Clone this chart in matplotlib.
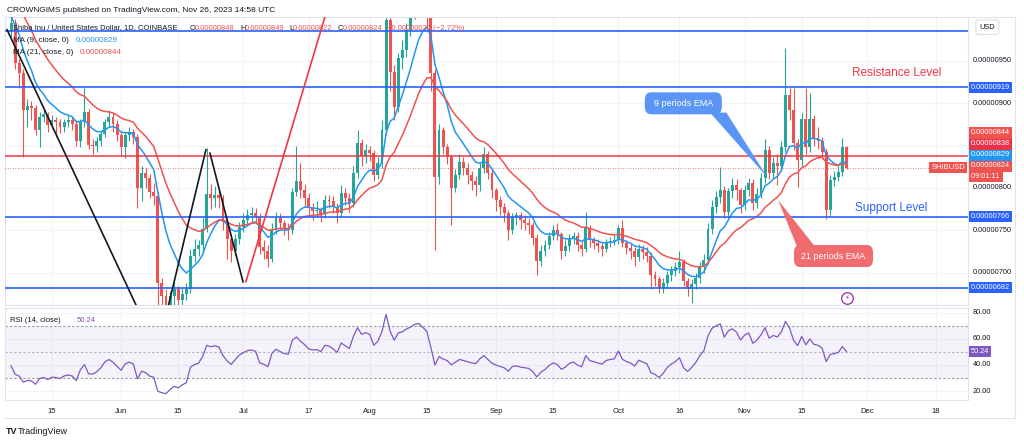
import numpy as np
import pandas as pd
import matplotlib
matplotlib.use('Agg')
import matplotlib.pyplot as plt
import matplotlib.transforms as mtransforms
from matplotlib.patches import FancyBboxPatch, Polygon

plt.rcParams['font.family'] = ['Liberation Sans', 'DejaVu Sans']

# prices in units of 1e-8 USD  (848 -> 0.00000848), daily candles from 2023-05-05
first_open = 985
closes = [995, 948, 936, 892, 897, 894, 868, 884, 887, 874,
          880, 878, 872, 878, 880, 876, 855, 878, 890, 851,
          850, 855, 864, 878, 884, 876, 862, 848, 862, 866,
          860, 800, 818, 812, 795, 790, 688, 672, 662, 672,
          680, 668, 675, 680, 720, 728, 732, 752, 793, 788,
          792, 788, 760, 740, 726, 740, 754, 762, 768, 770,
          766, 730, 725, 716, 752, 765, 758, 752, 750, 795,
          808, 797, 788, 776, 773, 774, 769, 786, 784, 778,
          770, 794, 788, 782, 818, 853, 838, 845, 841, 815,
          829, 868, 998, 937, 896, 953, 963, 987, 1005, 1030,
          1040, 1025, 1010, 936, 813, 868, 848, 836, 800, 815,
          831, 824, 815, 808, 803, 824, 840, 818, 797, 786,
          778, 770, 750, 766, 768, 762, 759, 756, 741, 714,
          726, 733, 743, 750, 745, 726, 731, 740, 743, 733,
          728, 753, 738, 735, 731, 728, 735, 737, 738, 753,
          735, 729, 726, 718, 728, 724, 720, 697, 692, 682,
          688, 697, 702, 706, 712, 690, 680, 686, 694, 706,
          715, 752, 778, 789, 797, 771, 796, 804, 797, 780,
          798, 806, 782, 793, 812, 845, 818, 830, 826, 848,
          910, 892, 853, 833, 882, 848, 882, 859, 855, 843,
          774, 809, 813, 819, 848, 824]
highs = [1002, 1000, 952, 940, 905, 903, 898, 890, 892, 890,
         886, 884, 882, 882, 886, 884, 880, 882, 918, 893,
         858, 860, 868, 882, 892, 888, 880, 866, 866, 872,
         870, 864, 826, 824, 816, 806, 795, 694, 680, 678,
         690, 684, 682, 688, 728, 740, 738, 765, 847, 805,
         802, 798, 792, 766, 746, 746, 760, 770, 775, 778,
         776, 770, 738, 732, 758, 772, 770, 762, 758, 800,
         850, 830, 805, 794, 782, 784, 778, 792, 792, 790,
         782, 804, 800, 794, 826, 868, 858, 852, 850, 845,
         836, 880, 1010, 1005, 945, 960, 975, 995, 1020, 1050,
         1060, 1050, 1030, 1015, 940, 875, 872, 852, 840, 822,
         840, 836, 830, 820, 814, 830, 848, 844, 822, 800,
         790, 782, 774, 770, 772, 772, 768, 764, 760, 745,
         732, 738, 748, 756, 758, 748, 738, 746, 748, 748,
         738, 771, 756, 742, 740, 736, 740, 742, 744, 756,
         762, 738, 734, 730, 734, 732, 730, 724, 702, 696,
         694, 702, 708, 712, 725, 716, 694, 692, 700, 712,
         722, 758, 786, 796, 825, 802, 800, 812, 810, 800,
         804, 812, 810, 800, 818, 858, 850, 836, 840, 855,
         965, 918, 918, 858, 888, 918, 912, 886, 872, 860,
         846, 815, 820, 826, 859, 849]
lows = [978, 940, 918, 836, 872, 880, 862, 848, 878, 866,
        870, 860, 865, 866, 872, 868, 850, 848, 872, 846,
        840, 842, 850, 860, 872, 866, 855, 838, 835, 856,
        852, 776, 785, 800, 788, 780, 650, 655, 640, 650,
        662, 655, 660, 668, 676, 712, 720, 726, 748, 775,
        778, 776, 750, 716, 712, 720, 734, 748, 756, 760,
        758, 722, 716, 706, 712, 745, 750, 744, 738, 745,
        790, 788, 778, 768, 762, 766, 760, 765, 776, 770,
        758, 766, 780, 772, 778, 812, 826, 830, 832, 808,
        810, 824, 862, 915, 880, 890, 940, 955, 980, 1000,
        1025, 1010, 990, 915, 727, 805, 840, 828, 756, 795,
        810, 815, 805, 798, 790, 796, 818, 810, 788, 773,
        768, 760, 738, 745, 756, 752, 750, 746, 732, 697,
        708, 720, 728, 738, 738, 716, 720, 726, 734, 726,
        720, 724, 730, 728, 724, 720, 724, 730, 732, 734,
        730, 722, 716, 708, 714, 716, 712, 680, 684, 676,
        676, 682, 690, 696, 700, 684, 672, 664, 680, 688,
        700, 710, 745, 770, 782, 764, 766, 788, 786, 770,
        774, 790, 774, 776, 788, 806, 810, 812, 804, 820,
        842, 880, 845, 801, 826, 840, 842, 850, 846, 834,
        763, 768, 802, 808, 814, 822]

# indicator state before the first visible candle
ema9_seed = 1005
ema21_seed = 1035
rsi_gain_seed = 7.0
rsi_loss_seed = 12.0

blue_levels = [986, 919, 766, 682]
red_level = 838
last_price = 824
price_ticks = [950, 900, 800, 750, 700]
rsi_ticks = [80, 20, 40, 60]

tick_dates = ['2023-05-15', '2023-06-01', '2023-06-15', '2023-07-01', '2023-07-17',
              '2023-08-01', '2023-08-15', '2023-09-01', '2023-09-15', '2023-10-01',
              '2023-10-16', '2023-11-01', '2023-11-15', '2023-12-01', '2023-12-18']
tick_labels = ['15', 'Jun', '15', 'Jul', '17', 'Aug', '15', 'Sep', '15', 'Oct',
               '16', 'Nov', '15', 'Dec', '18']

# hand-drawn trend lines: (day offset from May 15, price)
black_lines = [[(-11.0, 987), (20.9, 659)],
               [(28.5, 659), (37.8, 845)],
               [(38.8, 841), (46.9, 689)]]
red_trend = [(47.6, 689), (67.0, 1002)]

GREEN = '#26a69a'
RED = '#ef5350'
BLUE = '#2962ff'
EMA9_C = '#2196f3'
EMA21_C = '#f0524f'
TXT = '#131722'
GRID = '#f0f3fa'
PURPLE = '#7e57c2'


def ema(vals, seed, n):
    a = 2.0 / (n + 1)
    out = []
    prev = seed
    for v in vals:
        prev = prev + a * (v - prev)
        out.append(prev)
    return np.array(out)


def rsi(vals, prev_close, g0, l0, n=14):
    out = []
    g, l = g0, l0
    p = prev_close
    for v in vals:
        ch = v - p
        g = (g * (n - 1) + max(ch, 0)) / n
        l = (l * (n - 1) + max(-ch, 0)) / n
        out.append(100 - 100 / (1 + g / l))
        p = v
    return np.array(out)


def fmt(v):
    return '0.00000%03d' % v


dates = pd.date_range('2023-05-05', periods=len(closes), freq='D')
base = pd.Timestamp('2023-05-15')
x = (dates - base).days.values
c = np.array(closes, dtype=float)
o = np.array([first_open] + closes[:-1], dtype=float)
hi = np.array(highs, dtype=float)
lo = np.array(lows, dtype=float)

e9 = ema(closes, ema9_seed, 9)
e21 = ema(closes, ema21_seed, 21)
r = rsi(closes, first_open, rsi_gain_seed, rsi_loss_seed)

tick_x = [(pd.Timestamp(t) - base).days for t in tick_dates]

W, H = 1024, 443
fig = plt.figure(figsize=(W / 100, H / 100), dpi=100)
ax = fig.add_axes([5 / W, 1 - 305 / H, 963 / W, 288 / H])
axr = fig.add_axes([5 / W, 1 - 400 / H, 963 / W, 92 / H])

xlim = (-11.5, 224.8)
ax.set_xlim(*xlim)
ax.set_ylim(661.6, 1002)
axr.set_xlim(*xlim)
axr.set_ylim(13.1, 83.8)

for a in (ax, axr):
    a.set_xticks([])
    a.set_yticks([])
    for s in a.spines.values():
        s.set_color('#e0e3eb')
        s.set_linewidth(0.8)
    for tx in tick_x:
        a.axvline(tx, color=GRID, lw=0.8, zorder=0)

for v in price_ticks + [850]:
    ax.axhline(v, color=GRID, lw=0.8, zorder=0)
for v in rsi_ticks:
    axr.axhline(v, color=GRID, lw=0.8, zorder=0)

# candles
up = c >= o
cols = np.where(up, GREEN, RED)
ax.vlines(x, lo, hi, colors=cols, lw=0.8, zorder=2)
ax.bar(x, np.maximum(np.abs(c - o), 0.8), bottom=np.minimum(o, c), width=0.72,
       color=cols, lw=0, zorder=2)

ax.plot(x, e9, color=EMA9_C, lw=1.1, zorder=3)
ax.plot(x, e21, color=EMA21_C, lw=1.1, zorder=3)

# levels
for v in blue_levels:
    ax.axhline(v, color=BLUE, lw=1.2, zorder=4)
ax.axhline(red_level, color='#f23645', lw=1.1, zorder=4)
ax.axhline(last_price, color=RED, lw=0.6, ls=(0, (1, 2)), zorder=4)

for seg in black_lines:
    ax.plot([seg[0][0], seg[1][0]], [seg[0][1], seg[1][1]], color=TXT, lw=1.2, zorder=4)
ax.plot([red_trend[0][0], red_trend[1][0]], [red_trend[0][1], red_trend[1][1]],
        color='#f23645', lw=1.2, zorder=4)

# callouts
box9 = FancyBboxPatch((145.5, 887), 18.9, 26, boxstyle='round,pad=0,rounding_size=1.5',
                      fc='#5b95f5', ec='none', zorder=5, mutation_aspect=6)
ax.add_patch(box9)
ax.add_patch(Polygon([(161.5, 889), (165.5, 889), (175.7, 811.7)], closed=True,
                     fc='#5b95f5', ec='none', zorder=5))
ax.text(155.0, 900, '9 periods EMA', color='white', fontsize=6.5, ha='center',
        va='center', zorder=6)

box21 = FancyBboxPatch((182.1, 706.5), 19.4, 26, boxstyle='round,pad=0,rounding_size=1.5',
                       fc='#f06c6e', ec='none', zorder=5, mutation_aspect=6)
ax.add_patch(box21)
ax.add_patch(Polygon([(182.8, 731), (187.2, 731), (178.2, 785.7)], closed=True,
                     fc='#f06c6e', ec='none', zorder=5))
ax.text(191.8, 719.5, '21 periods EMA', color='white', fontsize=6.5, ha='center',
        va='center', zorder=6)

ax.text(207.4, 936, 'Resistance Level', color='#f23645', fontsize=8.5, ha='center',
        va='center', zorder=6)
ax.text(205.9, 776, 'Support Level', color=BLUE, fontsize=8.5, ha='center',
        va='center', zorder=6)

ax.scatter([195], [670], s=70, facecolors='white', edgecolors='#9c27b0', lw=0.9, zorder=6)
ax.text(195, 670, '\u26a1', color='#9c27b0', fontsize=5, ha='center', va='center',
        zorder=7, family=['DejaVu Sans'])

ax.text(0.997, last_price, 'SHIBUSD', transform=mtransforms.blended_transform_factory(
    ax.transAxes, ax.transData), color='white', fontsize=5.5, ha='right', va='center',
    bbox=dict(boxstyle='square,pad=0.25', fc=RED, ec='none'), zorder=7)

# headers
fig.text(7 / W, 1 - 10 / H, 'CROWNGIMS published on TradingView.com, Nov 26, 2023 14:58 UTC',
         fontsize=6, color=TXT, va='center')
hy = 1 - 28 / H
fig.text(13 / W, hy, 'Shiba Inu / United States Dollar, 1D, COINBASE', fontsize=5.5,
         color=TXT, va='center')
parts = [(190, 'O', TXT), (195, fmt(848), RED), (240, 'H', TXT), (245, fmt(849), RED),
         (289, 'L', TXT), (293, fmt(822), RED), (338, 'C', TXT), (343, fmt(824), RED),
         (387, '\u22120.00000023 (\u22122.72%)', RED)]
for px, s, col in parts:
    fig.text(px / W, hy, s, fontsize=5.5, color=col, va='center')
fig.text(13 / W, 1 - 40 / H, 'MA (9, close, 0)', fontsize=5.8, color=TXT, va='center')
fig.text(76 / W, 1 - 40 / H, fmt(829), fontsize=5.8, color=EMA9_C, va='center')
fig.text(13 / W, 1 - 52 / H, 'MA (21, close, 0)', fontsize=5.8, color=TXT, va='center')
fig.text(80 / W, 1 - 52 / H, fmt(844), fontsize=5.8, color=EMA21_C, va='center')

# price scale
tr = mtransforms.blended_transform_factory(ax.transAxes, ax.transData)
for v in price_ticks:
    ax.text(1.005, v, fmt(v), transform=tr, fontsize=5.3, color=TXT, va='center',
            ha='left', clip_on=False)


def tag(v, s, col, y=None):
    ax.text(1.003, v if y is None else y, s, transform=tr, fontsize=5.3, color='white',
            va='center', ha='left', clip_on=False,
            bbox=dict(boxstyle='square,pad=0.3', fc=col, ec='none'))


for v in (919, 766, 682):
    tag(v, fmt(v), BLUE)
stack = [(824, RED), (829, EMA9_C), (838, '#e8334a'), (844, '#f0524f')]
ypos = 826
for v, col in stack:
    tag(v, fmt(v), col, ypos)
    if v == 824:
        tag(v, '09:01:11 ', col, ypos - 12.5)
    ypos += 13
ax.text(1.012, 1002 - 12, 'USD', transform=tr, fontsize=5.3, color=TXT, va='center',
        ha='left', clip_on=False,
        bbox=dict(boxstyle='round,pad=0.5,rounding_size=0.3', fc='white', ec='#d1d4dc', lw=0.6))

# RSI pane
axr.axhspan(30, 70, color=PURPLE, alpha=0.07, lw=0, zorder=0)
axr.axhline(70, color='#9598a1', lw=0.8, ls=(0, (2, 2)), zorder=1)
axr.axhline(50, color='#b2b5be', lw=0.8, ls=(0, (2, 2)), zorder=1)
axr.axhline(30, color='#9598a1', lw=0.8, ls=(0, (2, 2)), zorder=1)
axr.plot(x, r, color=PURPLE, lw=0.9, zorder=3)
axr.text(0.005, 0.86, 'RSI (14, close)', transform=axr.transAxes, fontsize=5.5, color=TXT,
         va='center')
axr.text(0.075, 0.86, '50.24', transform=axr.transAxes, fontsize=5.5, color=PURPLE,
         va='center')
trr = mtransforms.blended_transform_factory(axr.transAxes, axr.transData)
for v in rsi_ticks:
    axr.text(1.005, v, '%.2f' % v, transform=trr, fontsize=5.3, color=TXT, va='center',
             ha='left', clip_on=False)
axr.text(1.003, 50.24, '50.24', transform=trr, fontsize=5.3, color='white', va='center',
         ha='left', clip_on=False, bbox=dict(boxstyle='square,pad=0.3', fc=PURPLE, ec='none'))

# time scale
for tx, lab in zip(tick_x, tick_labels):
    axr.text(tx, -0.12, lab, transform=mtransforms.blended_transform_factory(
        axr.transData, axr.transAxes), fontsize=5.5, color=TXT, ha='center', va='center',
        clip_on=False)

fig.add_artist(plt.Line2D([5 / W, 1015 / W], [1 - 418 / H, 1 - 418 / H], color='#e0e3eb', lw=0.8))
fig.add_artist(plt.Line2D([1015 / W, 1015 / W], [1 - 418 / H, 1 - 17 / H], color='#e0e3eb', lw=0.8))
fig.add_artist(plt.Line2D([968 / W, 1015 / W], [1 - 17 / H, 1 - 17 / H], color='#e0e3eb', lw=0.8))

fig.text(6 / W, 1 - 432 / H, 'TV', fontsize=6.5, fontweight='bold', color=TXT, va='center')
fig.text(18 / W, 1 - 432 / H, 'TradingView', fontsize=6.5, color=TXT, va='center')

fig.savefig('out.png', dpi=100, facecolor='white')
